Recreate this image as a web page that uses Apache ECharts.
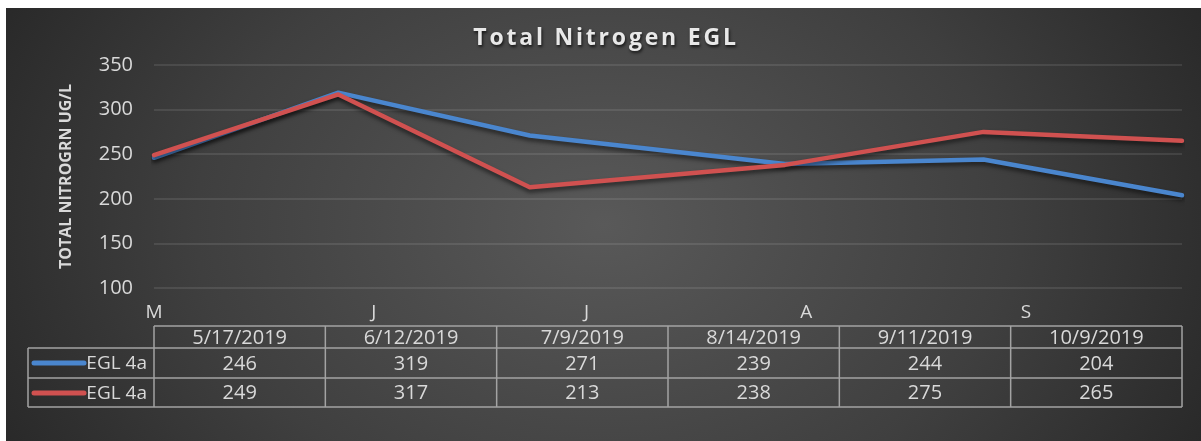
<!DOCTYPE html>
<html>
<head>
<meta charset="utf-8">
<script src="https://cdn.jsdelivr.net/npm/echarts@6/dist/echarts.min.js"></script>
<style>
  html, body { margin: 0; padding: 0; background: #ffffff; }
  #bg { position: absolute; left: 6px; top: 8px; width: 1195px; height: 433px;
        background: radial-gradient(ellipse 62% 125% at 50% 50%, #595959 0%, #3f3f3f 55%, #232323 100%); }
  #chart { position: absolute; left: 0; top: 0; width: 1201px; height: 441px; }
</style>
</head>
<body>
<div id="bg"></div>
<div id="chart"></div>
<script>
// ---- data ----
const tableDates = ['5/17/2019', '6/12/2019', '7/9/2019', '8/14/2019', '9/11/2019', '10/9/2019'];
const seriesNames = ['EGL 4a', 'EGL 4a'];
const blueValues = [246, 319, 271, 239, 244, 204];
const redValues  = [249, 317, 213, 238, 275, 265];
const monthTickDates = ['5/17/2019', '6/17/2019', '7/17/2019', '8/17/2019', '9/17/2019'];
const monthLabels = ['M', 'J', 'J', 'A', 'S'];
const yTicks = [100, 150, 200, 250, 300, 350];
const titleText = 'Total Nitrogen EGL';
const yAxisTitle = 'TOTAL NITROGRN UG/L';

// expanded character spacing for the title (as in the original)
(function () {
  const P = CanvasRenderingContext2D.prototype;
  const origFill = P.fillText, origStroke = P.strokeText;
  function wrap(orig) {
    return function (t, x, y, m) {
      if (t === titleText && 'letterSpacing' in this) {
        const prev = this.letterSpacing;
        this.letterSpacing = '2.8px';
        const r = m === undefined ? orig.call(this, t, x, y) : orig.call(this, t, x, y, m);
        this.letterSpacing = prev;
        return r;
      }
      return orig.apply(this, arguments);
    };
  }
  P.fillText = wrap(origFill);
  P.strokeText = wrap(origStroke);
})();

// ---- helpers ----
function parseMDY(s) { const p = s.split('/').map(Number); return Date.UTC(p[2], p[0] - 1, p[1]); }
const times = tableDates.map(parseMDY);
const tickTimes = monthTickDates.map(parseMDY);

const colors = ['#4A86CE', '#D05150'];
const textColor = '#d9d9d9';
const font = '"Open Sans", sans-serif';

// layout
const gridLeft = 154, gridRight = 1182, gridTop = 65, gridBottom = 288;
const W = 1201, H = 441;

const chart = echarts.init(document.getElementById('chart'), null, { renderer: 'canvas' });

// ---- data table as graphic ----
const tTop = 326, tHead = 348, tRow1 = 378, tRow2 = 407, tLeft = 28;
const nCol = tableDates.length;
const colW = (gridRight - gridLeft) / nCol;
const lineStyle = { stroke: '#a3a3a3', lineWidth: 1.5 };
const g = [];
function hline(x1, x2, y) { g.push({ type: 'line', shape: { x1, y1: y, x2, y2: y }, style: lineStyle, silent: true }); }
function vline(x, y1, y2) { g.push({ type: 'line', shape: { x1: x, y1, x2: x, y2 }, style: lineStyle, silent: true }); }
hline(gridLeft, gridRight, tTop);
hline(tLeft, gridRight, tHead);
hline(tLeft, gridRight, tRow1);
hline(tLeft, gridRight, tRow2);
vline(tLeft, tHead, tRow2);
for (let i = 0; i <= nCol; i++) vline(gridLeft + i * colW, tTop, tRow2);
function txt(t, x, y, size, align) {
  g.push({ type: 'text', x, y, silent: true,
    style: { text: t, fill: textColor, font: size + 'px ' + font, align: align || 'center', verticalAlign: 'middle' } });
}
const rows = [blueValues, redValues];
for (let i = 0; i < nCol; i++) {
  const cx = gridLeft + (i + 0.5) * colW;
  txt(tableDates[i], cx, (tTop + tHead) / 2 + 1, 20);
  txt(String(rows[0][i]), cx, (tHead + tRow1) / 2 + 1, 20);
  txt(String(rows[1][i]), cx, (tRow1 + tRow2) / 2 + 1, 20);
}
[tHead, tRow1].forEach((top, r) => {
  const cy = top + 15;
  g.push({ type: 'line', shape: { x1: 34, y1: cy, x2: 84, y2: cy }, silent: true,
    style: { stroke: colors[r], lineWidth: 5, lineCap: 'round' } });
  txt(seriesNames[r], 147, cy + 1, 19, 'right');
});

const option = {
  backgroundColor: 'transparent',
  animation: false,
  title: {
    text: titleText, left: 606, top: 25, textAlign: 'center', padding: 0,
    textStyle: { color: '#e8e8e8', fontFamily: font, fontWeight: 'bold', fontSize: 23, lineHeight: 26,
      textShadowColor: 'rgba(0,0,0,0.7)', textShadowBlur: 3, textShadowOffsetX: 1, textShadowOffsetY: 2 }
  },
  grid: { left: gridLeft, right: W - gridRight, top: gridTop, bottom: H - gridBottom, containLabel: false },
  xAxis: {
    type: 'value',
    min: times[0], max: times[times.length - 1],
    axisLine: { show: false },
    axisTick: { show: false },
    splitLine: { show: false },
    axisLabel: {
      customValues: tickTimes,
      color: textColor, fontFamily: font, fontSize: 19, margin: 15,
      showMinLabel: true, hideOverlap: false,
      formatter: function (v) {
        let best = 0, bd = Infinity;
        tickTimes.forEach((t, i) => { const d = Math.abs(t - v); if (d < bd) { bd = d; best = i; } });
        return monthLabels[best];
      }
    }
  },
  yAxis: {
    type: 'value', min: yTicks[0], max: yTicks[yTicks.length - 1], interval: 50,
    name: yAxisTitle, nameLocation: 'middle', nameGap: 80, nameRotate: 90,
    nameTextStyle: { color: textColor, fontFamily: font, fontWeight: 'bold', fontSize: 16 },
    axisLine: { show: false }, axisTick: { show: false },
    axisLabel: { color: textColor, fontFamily: font, fontSize: 20, margin: 21 },
    splitLine: { lineStyle: { color: 'rgba(255,255,255,0.13)', width: 1.5 } }
  },
  series: [blueValues, redValues].map((vals, k) => ({
    type: 'line', name: seriesNames[k], z: 2 + k,
    data: vals.map((v, i) => [times[i], v]),
    symbol: 'none',
    lineStyle: { color: colors[k], width: 4.5, cap: 'round', join: 'round',
      shadowColor: 'rgba(0,0,0,0.55)', shadowBlur: 4, shadowOffsetY: 3 }
  })),
  graphic: g
};
chart.setOption(option);
</script>
</body>
</html>
